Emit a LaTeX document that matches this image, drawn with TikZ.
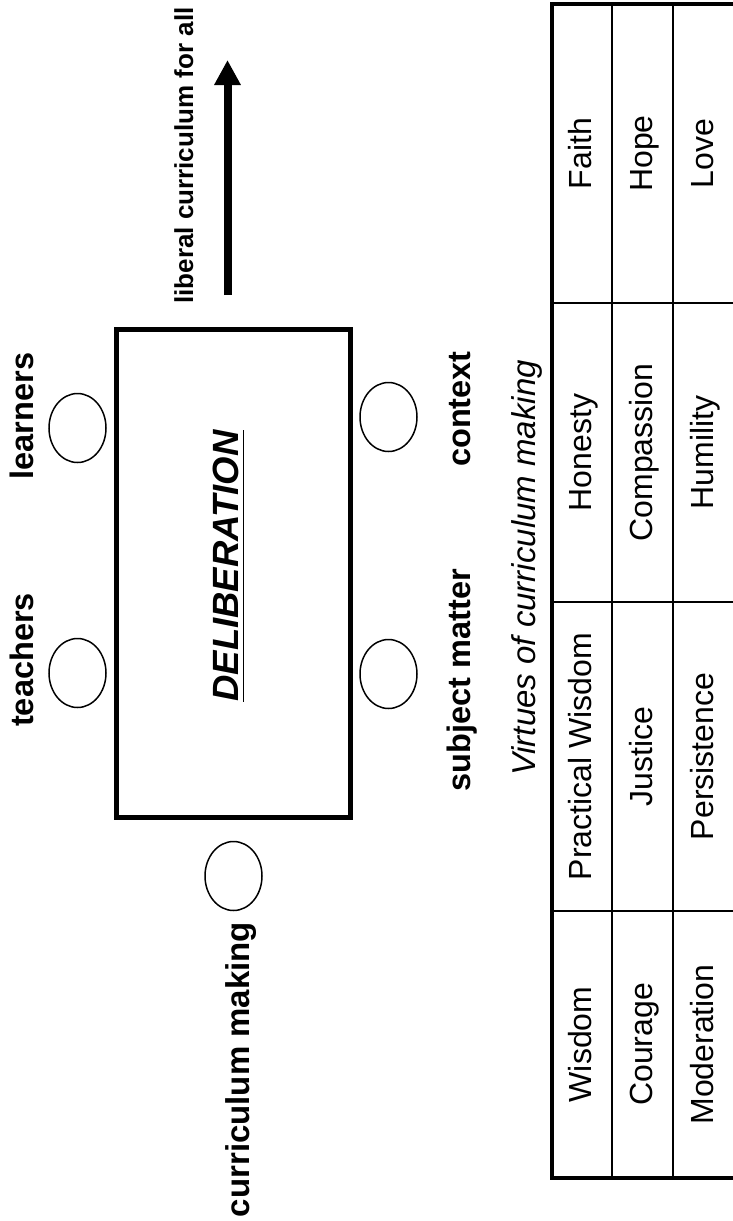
\documentclass[tikz,border=0pt]{standalone}
\usepackage{fontspec}
\setmainfont{Liberation Sans}
\usetikzlibrary{arrows.meta,shapes.geometric}
\begin{document}
\begin{tikzpicture}[x=1pt,y=-1pt,
  lbl/.style={rotate=90,anchor=base,inner sep=0pt,font=\fontsize{32.5}{39}\selectfont\bfseries},
  seat/.style={draw,ellipse,line width=1.5pt,minimum width=57pt,minimum height=69pt,inner sep=0pt},
  cell/.style={rotate=90,anchor=base,inner sep=0pt,font=\fontsize{32}{38}\selectfont},
  thickline/.style={line width=3.5pt},
  thinline/.style={line width=1.5pt}
]
\useasboundingbox (0,0) rectangle (733,1221);
\clip (0,0) rectangle (733,1221);

% deliberation table
\node[draw,line width=5pt,minimum width=234pt,minimum height=488pt,inner sep=0pt] (tbl) at (233,573) {};
\node[rotate=90,anchor=base,inner xsep=0pt,inner ysep=5pt,font=\fontsize{36.5}{44}\selectfont\bfseries\itshape] (delib) at (238,566) {DELIBERATION};
\draw[line width=1.5pt] (delib.south west) -- (delib.south east);

% seats
\node[seat] (learnersSeat) at (77.5,428) {};
\node[seat] (teachersSeat) at (77.5,673) {};
\node[seat] (contextSeat) at (388.5,417) {};
\node[seat] (subjectSeat) at (388.5,674) {};
\node[seat] (cmSeat) at (233.5,876) {};

% labels
\node[lbl] (learners) at (33,416) {learners};
\node[lbl] (teachers) at (33,660) {teachers};
\node[lbl] (context) at (470,409) {context};
\node[lbl] (subject) at (470,680) {subject matter};
\node[lbl,font=\fontsize{33}{40}\selectfont\bfseries] (cm) at (249,1069.5) {curriculum making};
\node[lbl,font=\fontsize{26}{31}\selectfont\bfseries] (liberal) at (193,155.5) {liberal curriculum for all};

% arrow
\coordinate (arrS) at (227.5,295);
\coordinate (arrE) at (227.5,60);
\draw[line width=8pt,-{Triangle[width=25pt,length=25pt]}] (arrS) -- (arrE);

% caption
\node[rotate=90,anchor=base,inner sep=0pt,font=\fontsize{33}{40}\selectfont\itshape] (virtues) at (535,568) {Virtues of curriculum making};

% virtues table
\draw[thinline] (612,4) -- (612,1178);
\draw[thinline] (673,4) -- (673,1178);
\draw[thinline] (552,303) -- (740,303);
\draw[thinline] (552,602) -- (740,602);
\draw[thinline] (552,911) -- (740,911);
\draw[thickline] (735,4) -- (552,4) -- (552,1178) -- (735,1178) -- cycle;

\node[cell] (c11) at (591,1044.5) {Wisdom};
\node[cell] (c12) at (591,756.5) {Practical Wisdom};
\node[cell] (c13) at (591,452.5) {Honesty};
\node[cell] (c14) at (591,153.5) {Faith};
\node[cell] (c21) at (652,1044.5) {Courage};
\node[cell] (c22) at (652,756.5) {Justice};
\node[cell] (c23) at (652,452.5) {Compassion};
\node[cell] (c24) at (652,153.5) {Hope};
\node[cell] (c31) at (713,1044.5) {Moderation};
\node[cell] (c32) at (713,756.5) {Persistence};
\node[cell] (c33) at (713,452.5) {Humility};
\node[cell] (c34) at (713,153.5) {Love};
\end{tikzpicture}
\end{document}
